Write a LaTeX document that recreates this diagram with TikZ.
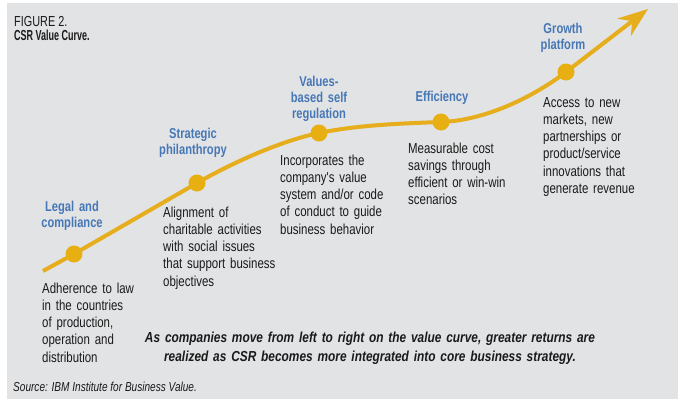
\documentclass[tikz,border=0pt]{standalone}
\usepackage{fontspec}
\setmainfont{Liberation Sans}
\newfontfamily\fbody{Liberation Sans}[FakeStretch=0.79]
\newfontfamily\flabel{Liberation Sans}[FakeStretch=0.78]
\newfontfamily\ftitle{Liberation Sans}[FakeStretch=0.62]
\newfontfamily\ffig{Liberation Sans}[FakeStretch=0.75]
\newfontfamily\fnote{Liberation Sans}[FakeStretch=0.82]
\newfontfamily\fsrc{Liberation Sans}[FakeStretch=0.775]
\usetikzlibrary{arrows.meta}
\definecolor{bgc}{HTML}{E2E3E5}
\definecolor{lblue}{HTML}{4677B6}
\definecolor{curvec}{HTML}{E6AD1D}
\definecolor{dotc}{HTML}{E8AF12}
\definecolor{txt}{HTML}{1A1A1A}
\pgfdeclarelayer{bg}
\pgfdeclarelayer{curvelayer}
\pgfsetlayers{bg,curvelayer,main}
\tikzset{
  bodytext/.style={font=\fbody\fontsize{14.5}{17.3}\selectfont, text=txt, text width=140pt, align=left, inner sep=0pt, anchor=base west},
  stage/.style={font=\flabel\bfseries\fontsize{14.3}{16}\selectfont, text=lblue, text width=110pt, align=center, inner sep=0pt, anchor=base},
  dot/.style={circle, fill=dotc, minimum size=17pt, inner sep=0pt},
  curveline/.style={draw=curvec, line width=4pt, -{Stealth[length=30pt, width=22pt, inset=10pt]}},
}
\begin{document}
\begin{tikzpicture}[x=1pt, y=-1pt]
\useasboundingbox (0,0) rectangle (678,402);
\begin{pgfonlayer}{bg}
\fill[bgc] (7,3) rectangle (678,399);
\end{pgfonlayer}

% title
\node[font=\ffig\fontsize{14.5}{16}\selectfont, text=txt, inner sep=0pt, anchor=base west] (fig) at (14,26.7) {FIGURE 2.};
\node[font=\ftitle\bfseries\fontsize{14.5}{16}\selectfont, text=txt, inner sep=0pt, anchor=base west] (title) at (14,40.7) {CSR Value Curve.};

% curve points
\coordinate (start) at (43,271);
\coordinate (tip) at (648,9);
\node[dot] (d1) at (74,254) {};
\node[dot] (d2) at (197,183) {};
\node[dot] (d3) at (319,133) {};
\node[dot] (d4) at (441,122) {};
\node[dot] (d5) at (566,72) {};

\begin{pgfonlayer}{curvelayer}
\draw[curveline] (start) -- (d1.center) -- (d2.center)
  .. controls (232,163) and (280,141) .. (d3.center)
  .. controls (358,125) and (401,123.4) .. (d4.center)
  .. controls (486,120.4) and (534,96.4) .. (d5.center)
  -- (tip);
\end{pgfonlayer}

% stage labels
\node[stage] (l1) at (72,211.5) {Legal and\\compliance};
\node[stage] (l2) at (193,138) {Strategic\\philanthropy};
\node[stage] (l3) at (319,86) {Values-\\based self\\regulation};
\node[stage] (l4) at (442,101.5) {Efficiency};
\node[stage] (l5) at (563,33.5) {Growth\\platform};

% descriptions
\node[bodytext] (t1) at (42,293) {Adherence to law\\in the countries\\of production,\\operation and\\distribution};
\node[bodytext] (t2) at (163,217) {Alignment of\\charitable activities\\with social issues\\that support business\\objectives};
\node[bodytext] (t3) at (280,165) {Incorporates the\\company's value\\system and/or code\\of conduct to guide\\business behavior};
\node[bodytext] (t4) at (408,153) {Measurable cost\\savings through\\efficient or win-win\\scenarios};
\node[bodytext] (t5) at (543,107) {Access to new\\markets, new\\partnerships or\\product/service\\innovations that\\generate revenue};

% note
\node[font=\fnote\bfseries\itshape\fontsize{14.5}{18.7}\selectfont, text=txt, text width=560pt, align=center, inner sep=0pt, anchor=base] (note) at (370,342.3) {As companies move from left to right on the value curve, greater returns are\\realized as CSR becomes more integrated into core business strategy.};

% source
\node[font=\fsrc\itshape\fontsize{13}{15}\selectfont, text=txt, inner sep=0pt, anchor=base west] (src) at (13,391.7) {Source: IBM Institute for Business Value.};
\end{tikzpicture}
\end{document}
